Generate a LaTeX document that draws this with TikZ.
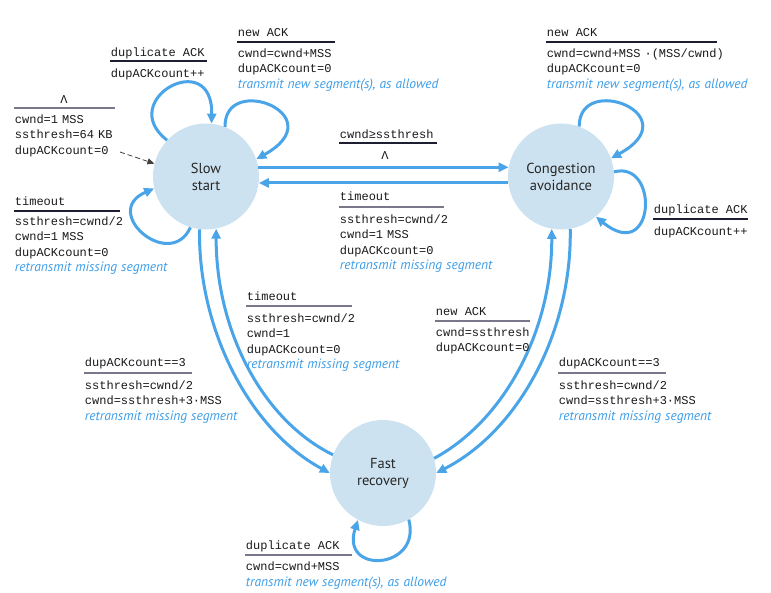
\documentclass[tikz,border=0pt]{standalone}
\usepackage{fontspec}
\setmainfont{PT Sans}
\setmonofont{Liberation Mono}
\usetikzlibrary{arrows.meta}
\definecolor{fsmblue}{RGB}{74,164,232}
\definecolor{fsmfill}{RGB}{205,226,240}
\definecolor{fsmnote}{RGB}{60,157,232}
\definecolor{ruledark}{RGB}{30,30,50}
\definecolor{rulegray}{RGB}{120,120,138}
\newcommand{\blueact}[1]{{\rmfamily\mdseries\itshape\fontsize{13.5}{15.5}\selectfont\color{fsmnote}#1}}

\begin{document}
\begin{tikzpicture}[x=1pt,y=1pt,yscale=-1,xscale=1,
    state/.style={circle,fill=fsmfill,minimum size=106pt,inner sep=0pt,align=center,
      font=\fontsize{14.5}{17}\selectfont,text=black!85},
    trans/.style={draw=fsmblue,line width=3pt,-{Triangle[length=10pt,width=9pt]}},
    guard/.style={anchor=base west,inner sep=0.75pt,text=black!90,
      font=\ttfamily\fontsize{12}{15.5}\selectfont},
    action/.style={guard,text width=240pt,align=left},
    rulek/.style={draw=ruledark,line width=1.1pt},
    ruleg/.style={draw=rulegray,line width=1.1pt}]
  \useasboundingbox (0,0) rectangle (771,593);

  %States
  \node[state] (ss) at (206,176.5) {Slow\\start};
  \node[state] (ca) at (561,176.5) {Congestion\\avoidance};
  \node[state] (fr) at (383,473) {Fast\\recovery};

  %Initial transition
  \coordinate (init) at (120,152);
  \draw[black!75,line width=0.8pt,dash pattern=on 5pt off 3pt,-{Triangle[length=7pt,width=6pt]}] (init) -- (ss.166);

  %Self loops
  \draw[trans] (ss.137) .. controls (115,100) and (213,46) .. (ss.84);
  \draw[trans] (ss.69) .. controls (224,72) and (335,115) .. (ss.19);
  \draw[trans] (ss.-107) .. controls (170,272) and (100,212) .. (ss.-167);
  \draw[trans] (ca.70) .. controls (579,72) and (690,115) .. (ca.20);
  \draw[trans] (ca.5) .. controls (660,160) and (655,265) .. (ca.-49);
  \draw[trans] (fr.-61) .. controls (422,570) and (340,575) .. (fr.-118);

  %Transitions between states
  \draw[trans] (ss.10) -- (ca.170);
  \draw[trans] (ca.-173) -- (ss.-7);
  \draw[trans] (ss.-97) .. controls (198,330) and (250,430) .. (fr.180);
  \draw[trans] (fr.160) .. controls (262,420) and (216,330) .. (ss.-79);
  \draw[trans] (fr.16) .. controls (505,420) and (552,330) .. (ca.-100);
  \draw[trans] (ca.-80) .. controls (572,330) and (520,430) .. (fr.0);

  % Text Node: initial
  \node[guard,anchor=base] (initHdr) at (64,104) {Λ};
  \draw[ruleg] (14,108) -- (115,108);
  \node[action] (initAct) at (14,123.5) {cwnd=1 MSS\\ssthresh=64 KB\\dupACKcount=0};

  % Text Node: slow start, duplicate ACK
  \node[guard] (ssDupHdr) at (110,56.5) {duplicate ACK};
  \draw[rulek] (110,61) -- (207,61);
  \node[action] (ssDupAct) at (110,77.5) {dupACKcount++};

  % Text Node: slow start, new ACK
  \node[guard] (ssNewHdr) at (237,36.5) {new ACK};
  \draw[rulek] (237,42) -- (335,42);
  \node[action] (ssNewAct) at (237,57.5) {cwnd=cwnd+MSS\\dupACKcount=0\\\blueact{transmit new segment(s), as allowed}};

  % Text Node: slow start, timeout
  \node[guard] (ssToHdr) at (14,205.5) {timeout};
  \draw[rulek] (14,211) -- (120,211);
  \node[action] (ssToAct) at (14,225.5) {ssthresh=cwnd/2\\cwnd=1 MSS\\dupACKcount=0\\\blueact{retransmit missing segment}};

  % Text Node: slow start to congestion avoidance
  \node[guard] (ssCaHdr) at (339,138.5) {cwnd≥ssthresh};
  \draw[rulek] (339,143) -- (437,143);
  \node[guard,anchor=base] (ssCaAct) at (385,159.5) {Λ};

  % Text Node: congestion avoidance to slow start
  \node[guard] (caSsHdr) at (339,200.5) {timeout};
  \draw[ruleg] (339,207) -- (444,207);
  \node[action] (caSsAct) at (339,223.5) {ssthresh=cwnd/2\\cwnd=1 MSS\\dupACKcount=0\\\blueact{retransmit missing segment}};

  % Text Node: congestion avoidance, new ACK
  \node[guard] (caNewHdr) at (546,36.5) {new ACK};
  \draw[rulek] (546,42) -- (717,42);
  \node[action] (caNewAct) at (546,57.5) {cwnd=cwnd+MSS ·(MSS/cwnd)\\dupACKcount=0\\\blueact{transmit new segment(s), as allowed}};

  % Text Node: congestion avoidance, duplicate ACK
  \node[guard] (caDupHdr) at (653,213.5) {duplicate ACK};
  \draw[rulek] (653,219) -- (748,219);
  \node[action] (caDupAct) at (653,235.5) {dupACKcount++};

  % Text Node: fast recovery to slow start
  \node[guard] (frSsHdr) at (246,300.5) {timeout};
  \draw[ruleg] (246,306) -- (352,306);
  \node[action] (frSsAct) at (246,322.5) {ssthresh=cwnd/2\\cwnd=1\\dupACKcount=0\\\blueact{retransmit missing segment}};

  % Text Node: slow start to fast recovery
  \node[guard] (ssFrHdr) at (84,366.5) {dupACKcount==3};
  \draw[ruleg] (84,373) -- (192,373);
  \node[action] (ssFrAct) at (84,389.5) {ssthresh=cwnd/2\\cwnd=ssthresh+3·MSS\\\blueact{retransmit missing segment}};

  % Text Node: fast recovery to congestion avoidance
  \node[guard] (frCaHdr) at (435,315.5) {new ACK};
  \draw[ruleg] (435,321) -- (530,321);
  \node[action] (frCaAct) at (435,336.5) {cwnd=ssthresh\\dupACKcount=0};

  % Text Node: congestion avoidance to fast recovery
  \node[guard] (caFrHdr) at (558,366.5) {dupACKcount==3};
  \draw[ruleg] (558,373) -- (666,373);
  \node[action] (caFrAct) at (558,389.5) {ssthresh=cwnd/2\\cwnd=ssthresh+3·MSS\\\blueact{retransmit missing segment}};

  % Text Node: fast recovery, duplicate ACK
  \node[guard] (frDupHdr) at (245,549.5) {duplicate ACK};
  \draw[ruleg] (245,555) -- (352,555);
  \node[action] (frDupAct) at (245,570.5) {cwnd=cwnd+MSS\\\blueact{transmit new segment(s), as allowed}};
\end{tikzpicture}
\end{document}
